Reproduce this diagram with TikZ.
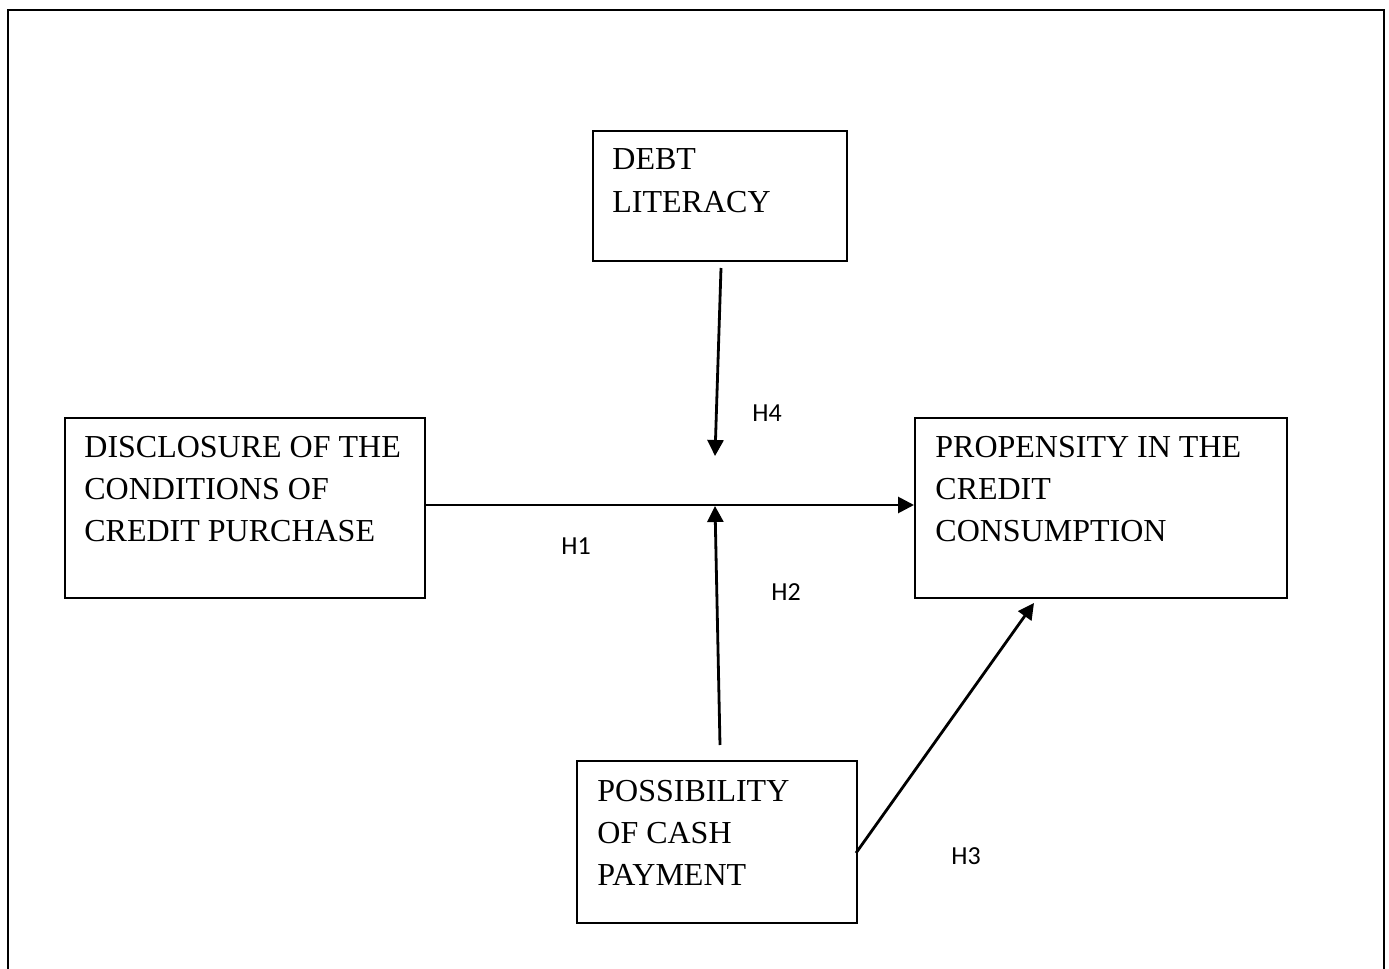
\documentclass[tikz,border=0pt]{standalone}
\usepackage{fontspec}
\setmainfont{Liberation Serif}
\newfontfamily\labfont{Carlito}
\usetikzlibrary{arrows.meta}
\begin{document}
\begin{tikzpicture}[x=0.5pt,y=-0.5pt,
  boxnode/.style={draw,line width=1pt,anchor=north west,inner sep=0pt},
  boxtext/.style={anchor=base west,align=left,inner sep=0pt,font=\fontsize{16}{21}\selectfont},
  hlabel/.style={inner sep=0pt,font=\labfont\fontsize{13}{15}\selectfont},
  arr/.style={line width=1.4pt,-{Triangle[length=8pt,width=8pt]}}]
\useasboundingbox (0,0) rectangle (1389,969);
\draw[line width=1.4pt] (8,975) -- (8,10) -- (1384,10) -- (1384,975);
% boxes
\node[boxnode,minimum width=254pt*0.5,minimum height=130pt*0.5] (debt) at (592,130) {};
\node[boxnode,minimum width=360pt*0.5,minimum height=180pt*0.5] (disc) at (64,417) {};
\node[boxnode,minimum width=372pt*0.5,minimum height=180pt*0.5] (prop) at (914,417) {};
\node[boxnode,minimum width=280pt*0.5,minimum height=162pt*0.5] (poss) at (576,760) {};
% texts (anchored at last baseline)
\node[boxtext] (debtt) at (612,212) {DEBT\\LITERACY};
\node[boxtext] (disct) at (84,541) {DISCLOSURE OF THE\\CONDITIONS OF\\CREDIT PURCHASE};
\node[boxtext] (propt) at (935,541) {PROPENSITY IN THE\\CREDIT\\CONSUMPTION};
\node[boxtext] (posst) at (597,885) {POSSIBILITY\\OF CASH\\PAYMENT};
% coordinates
\coordinate (d0) at (721,268);
\coordinate (d1) at (715,456);
\coordinate (p0) at (720,745);
\coordinate (p1) at (715,506);
\coordinate (q0) at (856,853);
\coordinate (q1) at (1034,603);
% arrows
\draw[arr] (disc.east |- 0,505) coordinate (h1s) -- (prop.west |- 0,505) coordinate (h1e);
\draw[arr] (d0) -- (d1);
\draw[arr] (p0) -- (p1);
\draw[arr] (q0) -- (q1);
% labels
\node[hlabel] (h4) at (767,413) {H4};
\node[hlabel] (h1) at (576,546) {H1};
\node[hlabel] (h2) at (786,592) {H2};
\node[hlabel] (h3) at (966,856) {H3};
\end{tikzpicture}
\end{document}
